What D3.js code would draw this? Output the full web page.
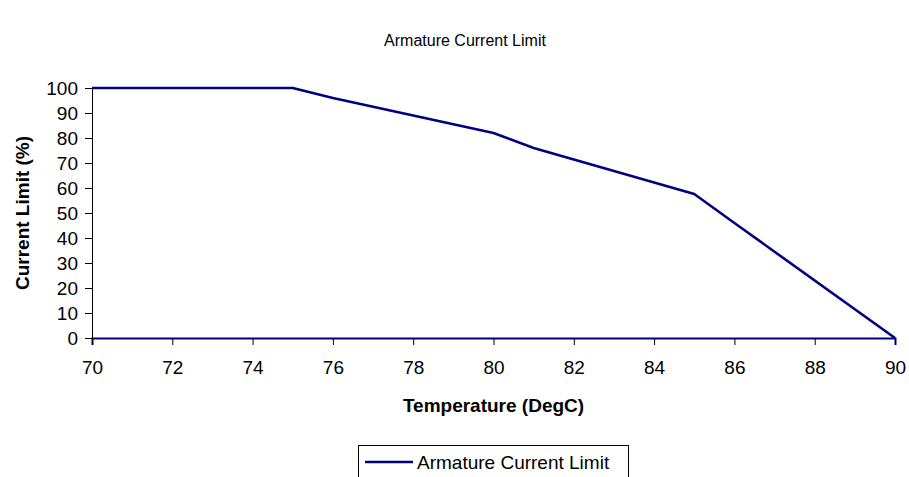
<!DOCTYPE html>
<html lang="en">
<head>
<meta charset="utf-8" />
<title>Armature Current Limit</title>
<style>
  body { margin:0; background:#fff; font-family:"Liberation Sans",Arial,sans-serif; }
  svg  { display:block; }
  .tick text { font-size:19px; fill:#000; font-family:"Liberation Sans",Arial,sans-serif; }
  .tick line { stroke:#000; }
  .axisTitle { font-size:19px; font-weight:bold; }
</style>
</head>
<body>
<svg width="909" height="477"></svg>
<script src="https://cdn.jsdelivr.net/npm/d3@7"></script>
<script>
/* ---------- DATA ---------- */
const temps   = [70, 75, 76, 80, 81, 85, 86, 90];
const limits  = [100, 100, 96, 82, 76, 57.6, 46, 0];
const xTicks  = [70, 72, 74, 76, 78, 80, 82, 84, 86, 88, 90];
const yTicks  = [0, 10, 20, 30, 40, 50, 60, 70, 80, 90, 100];
const seriesName = "Armature Current Limit";

const lineColor = "#000080";

/* ---------- LAYOUT ---------- */
const svg = d3.select("svg");
const m = { left: 92, right: 14, top: 88, bottom: 139 };
const W = 909, H = 477;

const x = d3.scaleLinear().domain([70, 90]).range([m.left, W - m.right]);
const y = d3.scaleLinear().domain([0, 100]).range([H - m.bottom, m.top]);

/* title */
svg.append("text")
   .attr("x", 465).attr("y", 46)
   .attr("text-anchor", "middle")
   .style("font-size", "16px")
   .text(seriesName);

/* y axis */
const yAxis = svg.append("g")
   .attr("transform", `translate(${m.left},0)`)
   .call(d3.axisLeft(y).tickValues(yTicks).tickSize(7).tickPadding(7));
yAxis.select(".domain").attr("stroke", "#000");

/* x axis */
const xAxis = svg.append("g")
   .attr("transform", `translate(0,${y(0)})`)
   .call(d3.axisBottom(x).tickValues(xTicks).tickSize(7).tickPadding(16));
xAxis.select(".domain").attr("stroke", lineColor).attr("stroke-width", 2);

/* axis titles */
svg.append("text")
   .attr("class", "axisTitle")
   .attr("x", (m.left + W - m.right) / 2).attr("y", 412)
   .attr("text-anchor", "middle")
   .text("Temperature (DegC)");

svg.append("text")
   .attr("class", "axisTitle")
   .attr("transform", `translate(29,${(y(0) + y(100)) / 2}) rotate(-90)`)
   .attr("text-anchor", "middle")
   .text("Current Limit (%)");

/* ---------- LINE ---------- */
const pts = temps.map((t, i) => [t, limits[i]]);
svg.append("path")
   .datum(pts)
   .attr("fill", "none")
   .attr("stroke", lineColor)
   .attr("stroke-width", 2.6)
   .attr("stroke-linejoin", "round")
   .attr("d", d3.line().x(d => x(d[0])).y(d => y(d[1])));

/* ---------- LEGEND ---------- */
const lg = svg.append("g").attr("transform", "translate(358,445)");
lg.append("rect")
  .attr("x", 0.5).attr("y", 0.5).attr("width", 270).attr("height", 40)
  .attr("fill", "#fff").attr("stroke", "#000").attr("stroke-width", 1);
lg.append("line")
  .attr("x1", 7).attr("x2", 55).attr("y1", 17).attr("y2", 17)
  .attr("stroke", lineColor).attr("stroke-width", 2.6);
lg.append("text")
  .attr("x", 59).attr("y", 24)
  .style("font-size", "19px")
  .text(seriesName);
</script>
</body>
</html>
